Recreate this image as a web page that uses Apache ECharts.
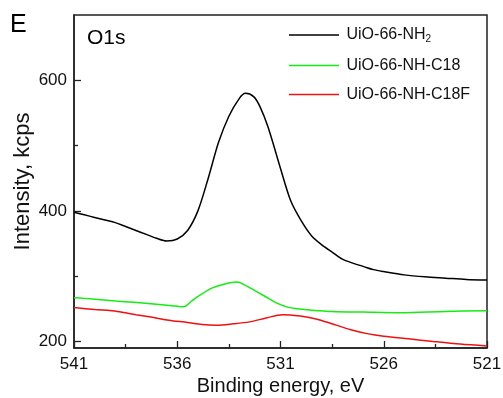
<!DOCTYPE html>
<html>
<head>
<meta charset="utf-8">
<script src="https://cdn.jsdelivr.net/npm/echarts@6/dist/echarts.min.js"></script>
<style>
  html, body { margin: 0; padding: 0; background: #fff; }
  #chart { width: 503px; height: 398px; }
</style>
</head>
<body>
<div id="chart"></div>
<script>
// binding energy (eV) and intensity (kcps)
const nh2 = [
  [541, 398], [540.5, 394], [540, 390], [539.5, 386], [539, 382], [538.5, 376],
  [538, 370], [537.5, 364], [537, 358], [536.5, 354], [536, 357], [535.5, 370],
  [535, 400], [534.5, 450], [534, 505], [533.5, 545], [533, 572], [532.7, 580],
  [532.3, 575], [532, 560], [531.6, 528], [531, 465], [530.5, 415], [530, 385],
  [529.5, 362], [529, 348], [528.5, 337], [528, 326], [527.5, 320], [527, 315],
  [526.5, 310], [526, 307], [525, 302], [524, 299], [523, 297], [522, 295], [521, 294]
];
const c18 = [
  [541, 267], [540.5, 266], [539.7, 264], [539, 262], [538.1, 260], [537, 257],
  [536, 254], [535.7, 253], [535.3, 262], [534.9, 271], [534.3, 282], [533.7, 288],
  [533.1, 291], [532.7, 286], [532.3, 279], [531.8, 270], [531.2, 259], [530.7, 253],
  [530.2, 250], [529.5, 248], [528.5, 246], [527, 245], [525.2, 244], [523, 246], [521, 247]
];
const c18f = [
  [541, 252], [540, 249], [538.9, 246], [538, 241], [537.2, 237], [536.5, 233],
  [535.5, 229], [534.8, 226], [534.1, 225], [533.3, 227], [532.5, 230], [531.7, 236],
  [530.9, 241], [530.05, 239], [529.5, 236], [529.1, 233], [528.3, 225], [527.6, 218],
  [526.8, 212], [526, 208], [524.8, 204], [523.6, 200], [522.3, 196], [521, 193]
];
const seriesNames = ['UiO-66-NH2', 'UiO-66-NH-C18', 'UiO-66-NH-C18F'];
const seriesColors = ['#000000', '#11ee11', '#ee1111'];
const xMajor = [541, 536, 531, 526, 521];
const xMinor = [538.5, 533.5, 528.5, 523.5];
const yMajor = [200, 400, 600];
const yMinor = [300, 500];

const chart = echarts.init(document.getElementById('chart'));
const font = 'Liberation Sans, Arial, sans-serif';

const xBase = { type: 'value', min: 521, max: 541, inverse: true, position: 'bottom', splitLine: { show: false } };
const yBase = { type: 'value', min: 190, max: 700, position: 'left', splitLine: { show: false } };

// tick-only axis laid over the main one
const tickAxis = (base, values, len) => Object.assign({}, base, {
  axisLine: { show: false },
  axisTick: { show: true, inside: true, length: len, customValues: values, lineStyle: { color: '#222', width: 1.3 } },
  axisLabel: { show: false }
});

chart.setOption({
  animation: false,
  textStyle: { fontFamily: font },
  grid: {
    left: 74, right: 16, top: 15, bottom: 50, outerBoundsMode: 'none',
    show: true, borderColor: '#222', borderWidth: 1.5
  },
  graphic: [
    { type: 'text', left: 10, top: 13, style: { text: 'E', font: '25px ' + font, fill: '#000' } },
    { type: 'text', left: 87, top: 28, style: { text: 'O1s', font: '21px ' + font, fill: '#000' } }
  ],
  legend: {
    orient: 'vertical', left: 284, top: 22,
    itemWidth: 53, itemHeight: 1.5, itemGap: 13,
    icon: 'path://M0,0 L100,0 L100,3 L0,3 Z',
    textStyle: {
      fontSize: 16, color: '#111', padding: [0, 0, 0, 1],
      rich: {
        n: { fontSize: 16, color: '#111', fontFamily: font },
        s: { fontSize: 10, color: '#111', fontFamily: font, verticalAlign: 'bottom', padding: [9, 0, 0, 0] }
      }
    },
    formatter: (name) => name === 'UiO-66-NH2' ? '{n|UiO-66-NH}{s|2}' : '{n|' + name + '}',
    data: seriesNames
  },
  xAxis: [
    Object.assign({}, xBase, {
      name: 'Binding energy, eV', nameLocation: 'middle', nameGap: 28, nameMoveOverlap: false,
      nameTextStyle: { fontSize: 20, color: '#111' },
      axisLine: { show: true, lineStyle: { color: '#222', width: 1.5 } },
      axisTick: { show: false },
      axisLabel: { customValues: xMajor, fontSize: 17, color: '#111', margin: 8 }
    }),
    tickAxis(xBase, xMajor, 7),
    tickAxis(xBase, xMinor, 4)
  ],
  yAxis: [
    Object.assign({}, yBase, {
      name: 'Intensity, kcps', nameLocation: 'middle', nameGap: 40, nameMoveOverlap: false,
      nameTextStyle: { fontSize: 22, color: '#111' },
      axisLine: { show: true, lineStyle: { color: '#222', width: 1.5 } },
      axisTick: { show: false },
      axisLabel: { customValues: yMajor, fontSize: 17, color: '#111', margin: 7 }
    }),
    tickAxis(yBase, yMajor, 7),
    tickAxis(yBase, yMinor, 4)
  ],
  series: [nh2, c18, c18f].map((d, i) => ({
    name: seriesNames[i],
    type: 'line',
    data: d,
    xAxisIndex: 0,
    yAxisIndex: 0,
    symbol: 'none',
    smooth: 0.3,
    color: seriesColors[i],
    lineStyle: { width: 1.5, color: seriesColors[i] }
  }))
});
</script>
</body>
</html>
